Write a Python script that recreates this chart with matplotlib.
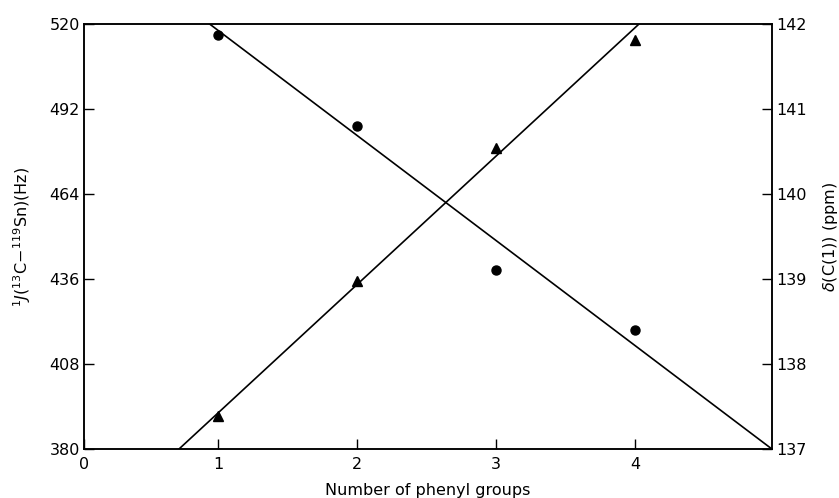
import numpy as np
import matplotlib
matplotlib.use("Agg")
import matplotlib.pyplot as plt

phenyl = [1, 2, 3, 4]
j_coupling = [516.4, 486.4, 439.0, 419.2]     # Hz, circles, left axis
delta_c1 = [137.39, 138.98, 140.54, 141.81]   # ppm, triangles, right axis
# fitted straight lines (end points)
fit_j_x = [0.94, 4.986]
fit_j_y = [520, 380]
fit_d_x = [0.72, 4.03]
fit_d_y = [137, 142]
left_ticks = [380, 408, 436, 464, 492, 520]
right_ticks = [137, 138, 139, 140, 141, 142]
x_tick_labels = ['0', '1', '2', '3', '4']

plt.rcParams['font.family'] = ['DejaVu Sans']
plt.rcParams['mathtext.fontset'] = 'dejavusans'

fig = plt.figure(figsize=(8.39, 4.98), dpi=100)
ax = fig.add_axes([0.1001, 0.0984, 0.8199, 0.8534])
ax2 = ax.twinx()

xlim = (0.036, 4.986)

ax.plot(fit_j_x, fit_j_y, color='black', lw=1.2)
ax.plot(phenyl, j_coupling, 'o', color='black', ms=6.5)

ax2.plot(fit_d_x, fit_d_y, color='black', lw=1.2)
ax2.plot(phenyl, delta_c1, '^', color='black', ms=6.5)

ax.set_xlim(*xlim)
ax.set_ylim(380, 520)
ax2.set_ylim(137, 142)
ax.set_xticks([xlim[0], 1, 2, 3, 4])
ax.set_xticklabels(x_tick_labels)
ax.set_yticks(left_ticks)
ax2.set_yticks(right_ticks)

for a in (ax, ax2):
    for s in a.spines.values():
        s.set_linewidth(1.1)
ax.tick_params(direction='in', length=7, width=1.0, labelsize=11.5, pad=3)
ax2.tick_params(direction='in', length=7, width=1.0, labelsize=11.5, pad=3)
ax.tick_params(axis='x', pad=6)

ax.set_xlabel('Number of phenyl groups', fontsize=11.5, labelpad=8)
ax.set_ylabel(r'$^{1}J$($^{13}$C$-^{119}$Sn)(Hz)', fontsize=11.5, labelpad=12)
ax2.set_ylabel(r'$\delta$(C(1)) (ppm)', fontsize=11.5, labelpad=10)

fig.savefig('out.png', dpi=100)
